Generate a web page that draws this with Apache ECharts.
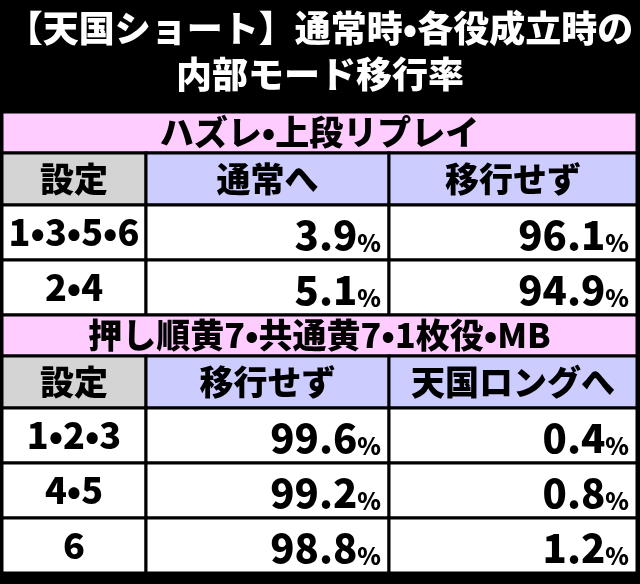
<!DOCTYPE html>
<html><head><meta charset="utf-8">
<script src="https://cdn.jsdelivr.net/npm/echarts@6/dist/echarts.min.js"></script>
<style>html,body{margin:0;background:#000}#c{width:640px;height:584px}</style>
</head><body><div id="c"></div>
<script>
const titleLines = ["【天国ショート】通常時•各役成立時の", "内部モード移行率"];
const section1Title = "ハズレ•上段リプレイ";
const section1Headers = ["設定", "通常へ", "移行せず"];
const section1Settings = ["1•3•5•6", "2•4"];
const section1ToNormal = [3.9, 5.1];
const section1NoShift = [96.1, 94.9];
const section2Title = "押し順黄7•共通黄7•1枚役•MB";
const section2Headers = ["設定", "移行せず", "天国ロングへ"];
const section2Settings = ["1•2•3", "4•5", "6"];
const section2NoShift = [99.6, 99.2, 98.8];
const section2ToLong = [0.4, 0.8, 1.2];

const colX = [2, 146, 389, 637];
const FONT = '"Noto Sans CJK JP"';
const cells = [];
function add(x0,x1,y0,y1,text,fill,kind){cells.push([x0,x1,y0,y1,text,fill,kind]);}
function section(yStart, title, headers, settings, a, b){
  let y=yStart;
  add(colX[0],colX[3],y,y+41,title,'#ffccff','h'); y+=41;
  add(colX[0],colX[1],y,y+52,headers[0],'#d4d4d4','h');
  add(colX[1],colX[2],y,y+52,headers[1],'#ccccff','h');
  add(colX[2],colX[3],y,y+52,headers[2],'#ccccff','h'); y+=52;
  settings.forEach((s,i)=>{
    add(colX[0],colX[1],y,y+55,s,'#ffffff','s');
    add(colX[1],colX[2],y,y+55,a[i].toFixed(1),'#ffffff','v');
    add(colX[2],colX[3],y,y+55,b[i].toFixed(1),'#ffffff','v');
    y+=55;
  });
  return y;
}
let yy = section(112, section1Title, section1Headers, section1Settings, section1ToNormal, section1NoShift);
section(yy, section2Title, section2Headers, section2Settings, section2NoShift, section2ToLong);

const chart = echarts.init(document.getElementById('c'));
chart.setOption({
  backgroundColor:'#000',
  title:{text:titleLines.join('\n'),left:'center',top:0,textStyle:{color:'#fff',fontFamily:FONT,fontWeight:900,fontSize:36,lineHeight:46}},
  grid:{left:0,right:0,top:0,bottom:0},
  xAxis:{type:'value',min:0,max:640,show:false},
  yAxis:{type:'value',min:0,max:584,inverse:true,show:false},
  series:[{type:'custom',data:cells,renderItem:(params,api)=>{
    const d=cells[params.dataIndex];
    const p0=api.coord([d[0],d[2]]), p1=api.coord([d[1],d[3]]);
    const w=p1[0]-p0[0], h=p1[1]-p0[1];
    const children=[{type:'rect',shape:{x:p0[0],y:p0[1],width:w,height:h},style:{fill:d[5],stroke:'#000',lineWidth:3}}];
    if(d[6]==='h' || d[6]==='s'){
      const fs = d[6]==='s' ? 36 : 34;
      children.push({type:'text',style:{text:d[4],x:p0[0]+w/2,y:p0[1]+h/2,align:'center',verticalAlign:'middle',font:'900 '+fs+'px '+FONT,fill:'#000'}});
    } else {
      children.push({type:'text',style:{text:'{n|'+d[4]+'}{p|%}',x:p1[0]-8,y:p0[1]+h/2+2,align:'right',verticalAlign:'middle',
        rich:{n:{font:'900 40px '+FONT,fill:'#000',verticalAlign:'bottom'},p:{font:'900 24px '+FONT,fill:'#000',verticalAlign:'bottom'}}}});
    }
    return {type:'group',children};
  }}]
});
</script></body></html>
